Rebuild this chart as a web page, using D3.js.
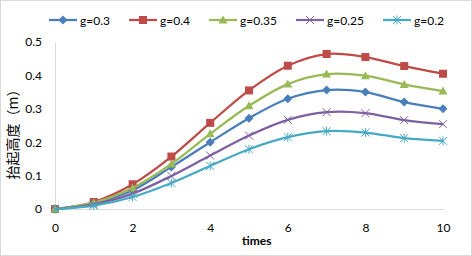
<!DOCTYPE html>
<html lang="zh">
  <head>
    <meta charset="UTF-8">
    <title>抬起高度</title>
    <style>
      body { margin: 0; background: #fff; }
      text { font-family: Lato, "Open Sans", sans-serif; fill: #000; }
      .axis path, .axis line { stroke: #d9d9d9; shape-rendering: crispEdges; }
      .axis text { font-size: 12px; }
    </style>
    <script src="https://d3js.org/d3.v7.min.js"></script>
  </head>
  <body>
    <script>
      const times = [0, 1, 2, 3, 4, 5, 6, 7, 8, 9, 10];
      const seriesNames = ["g=0.3", "g=0.4", "g=0.35", "g=0.25", "g=0.2"];
      const g03  = [0, 0.017, 0.056, 0.126, 0.200, 0.272, 0.330, 0.356, 0.350, 0.320, 0.300];
      const g04  = [0, 0.021, 0.074, 0.157, 0.258, 0.355, 0.429, 0.464, 0.455, 0.428, 0.405];
      const g035 = [0, 0.019, 0.063, 0.135, 0.225, 0.309, 0.374, 0.404, 0.399, 0.373, 0.353];
      const g025 = [0, 0.014, 0.046, 0.099, 0.160, 0.220, 0.267, 0.290, 0.287, 0.266, 0.254];
      const g02  = [0, 0.010, 0.036, 0.078, 0.129, 0.179, 0.215, 0.233, 0.229, 0.212, 0.204];
      const xTicks = [0, 2, 4, 6, 8, 10];
      const yTicks = [0, 0.1, 0.2, 0.3, 0.4, 0.5];
      const colors = ["#4a7ebb", "#be4b48", "#98b954", "#7d60a0", "#46aac5"];
      const markers = ["diamond", "square", "triangle", "x", "star"];

      const width = 472, height = 256;
      const margin = { top: 42, right: 29, bottom: 47, left: 55 };
      const iw = width - margin.left - margin.right;
      const ih = height - margin.top - margin.bottom;

      const svg = d3.select("body").append("svg")
        .attr("width", width).attr("height", height);

      svg.append("rect")
        .attr("x", 0.5).attr("y", 0.5)
        .attr("width", width - 1).attr("height", height - 1)
        .attr("fill", "#fff").attr("stroke", "#d9d9d9");

      const g = svg.append("g").attr("transform", `translate(${margin.left},${margin.top})`);

      const x = d3.scaleLinear().domain([0, 10]).range([0, iw]);
      const y = d3.scaleLinear().domain([0, 0.5]).range([ih, 0]);

      g.append("g").attr("class", "axis")
        .attr("transform", `translate(0,${ih})`)
        .call(d3.axisBottom(x).tickValues(xTicks).tickSize(0).tickPadding(14).tickFormat(d3.format("d")))
        .call(a => a.selectAll("text").style("font-family", "Lato, sans-serif"));

      g.append("g").attr("class", "axis")
        .call(d3.axisLeft(y).tickValues(yTicks).tickSize(0).tickPadding(13)
          .tickFormat(d => d === 0 ? "0" : d3.format(".1f")(d)))
        .call(a => a.selectAll("text").style("font-family", "Lato, sans-serif"));

      // axis titles
      svg.append("text")
        .attr("x", margin.left + x(5.2)).attr("y", 245)
        .attr("text-anchor", "middle")
        .style("font-size", "12px").style("font-weight", "bold")
        .text("times");

      svg.append("text")
        .attr("transform", `translate(18,131) rotate(-90)`)
        .attr("text-anchor", "middle")
        .style("font-family", "'Noto Sans CJK SC', sans-serif")
        .style("font-size", "14px")
        .text("抬起高度（m）");

      const data = [g03, g04, g035, g025, g02];
      const line = d3.line()
        .x((d, i) => x(times[i]))
        .y(d => y(d))
        .curve(d3.curveCardinal.tension(0));

      function drawMarker(sel, type, color) {
        if (type === "diamond") {
          sel.append("path").attr("d", "M0,-4.5L4.5,0L0,4.5L-4.5,0Z").attr("fill", color);
        } else if (type === "square") {
          sel.append("rect").attr("x", -4).attr("y", -4).attr("width", 8).attr("height", 8).attr("fill", color);
        } else if (type === "triangle") {
          sel.append("path").attr("d", "M0,-4.5L4.5,3.5L-4.5,3.5Z").attr("fill", color);
        } else if (type === "x") {
          sel.append("path").attr("d", "M-4,-4L4,4M-4,4L4,-4").attr("stroke", color).attr("stroke-width", 1);
        } else {
          sel.append("path").attr("d", "M-4,-4L4,4M-4,4L4,-4M0,-4.5L0,4.5").attr("stroke", color).attr("stroke-width", 1);
        }
      }

      data.forEach((vals, k) => {
        g.append("path")
          .datum(vals)
          .attr("fill", "none")
          .attr("stroke", colors[k])
          .attr("stroke-width", 2.25)
          .attr("d", line);
        vals.forEach((v, i) => {
          const m = g.append("g").attr("transform", `translate(${x(times[i])},${y(v)})`);
          drawMarker(m, markers[k], colors[k]);
        });
      });

      // legend
      const legendX = [49, 129, 209, 296, 383];
      seriesNames.forEach((name, k) => {
        const lg = svg.append("g").attr("transform", `translate(${legendX[k]},20)`);
        lg.append("line").attr("x1", 0).attr("x2", 28).attr("y1", 0).attr("y2", 0)
          .attr("stroke", colors[k]).attr("stroke-width", 2.25);
        drawMarker(lg.append("g").attr("transform", "translate(14,0)"), markers[k], colors[k]);
        lg.append("text").attr("x", 31).attr("y", 4.5)
          .style("font-size", "12px").text(name);
      });
    </script>
  </body>
</html>
